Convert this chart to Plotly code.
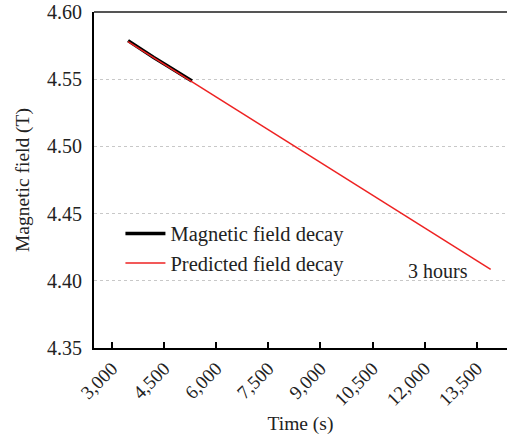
import plotly.graph_objects as go

# Data
meas_t = [3460, 3800, 4200, 4600, 5000, 5300]
meas_b = [4.5787, 4.5727, 4.5661, 4.5598, 4.5537, 4.5487]
pred_t = [3460, 13900]
pred_b = [4.5780, 4.4085]
x_ticks = [3000, 4500, 6000, 7500, 9000, 10500, 12000, 13500]
y_ticks = [4.35, 4.40, 4.45, 4.50, 4.55, 4.60]

FONT = "Liberation Serif, Times New Roman, serif"
COL = "#222"

def f(size):
    return dict(family=FONT, size=size, color=COL)

fig = go.Figure()
fig.add_trace(go.Scatter(x=meas_t, y=meas_b, mode="lines", name="Magnetic field decay",
                         line=dict(color="black", width=3.5)))
fig.add_trace(go.Scatter(x=pred_t, y=pred_b, mode="lines", name="Predicted field decay",
                         line=dict(color="#ee2222", width=1.5)))

fig.add_annotation(x=12380, y=4.4075, text="3 hours", showarrow=False, font=f(20))

fig.add_shape(type="line", xref="paper", yref="paper", x0=0, x1=1, y0=1, y1=1,
              line=dict(color="#555", width=2))

fig.update_layout(
    width=507, height=435,
    margin=dict(l=94, r=0, t=12, b=87),
    paper_bgcolor="white", plot_bgcolor="white",
    font=f(19),
    showlegend=True,
    legend=dict(x=0.064, y=0.40, xanchor="left", yanchor="top",
                bgcolor="rgba(0,0,0,0)", font=f(20.5), tracegroupgap=0,
                itemwidth=40),
    xaxis=dict(range=[2480, 14370], tickvals=x_ticks,
               ticktext=[f"{v:,}" for v in x_ticks], tickangle=-45,
               ticks="inside", ticklen=6, tickcolor="black", tickwidth=1.5,
               showgrid=False, zeroline=False, showline=True, linecolor="black",
               linewidth=2, title=dict(text="Time (s)", standoff=8, font=f(19.5)),
               tickfont=f(19)),
    yaxis=dict(range=[4.35, 4.60], tickvals=y_ticks,
               ticktext=[f"{v:.2f}" for v in y_ticks],
               showgrid=True, gridcolor="#c8c8c8", griddash="dot", gridwidth=1,
               zeroline=False, showline=True, linecolor="black", linewidth=2,
               ticks="", ticklabelstandoff=6,
               title=dict(text="Magnetic field (T)", standoff=12, font=f(19.5)),
               tickfont=f(20)),
)

fig.write_html("out.html")
